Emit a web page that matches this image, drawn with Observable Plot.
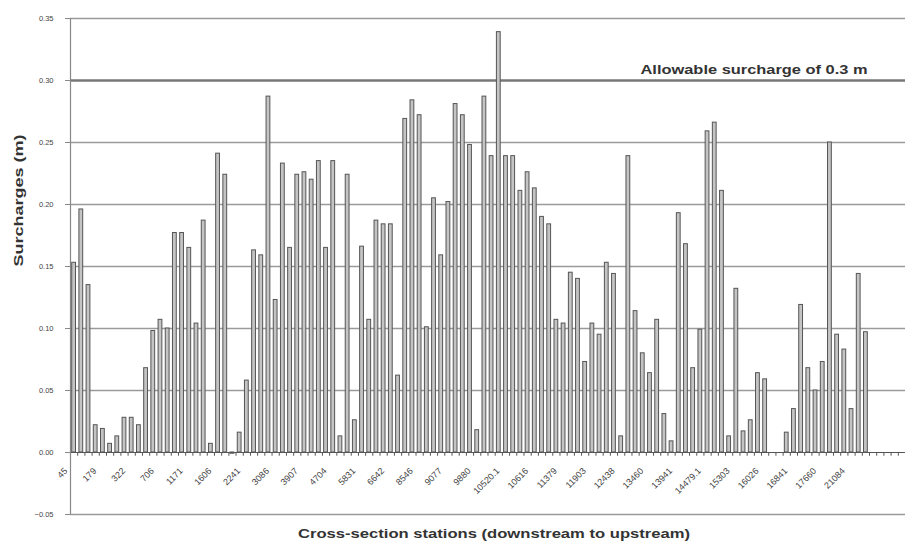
<!DOCTYPE html>
<html>
<head>
<meta charset="utf-8">
<script src="https://cdn.jsdelivr.net/npm/d3@7"></script>
<script src="https://cdn.jsdelivr.net/npm/@observablehq/plot@0.6"></script>
<style>
  html, body { margin: 0; padding: 0; background: #fff; }
  #chart svg { display: block; font-family: "Liberation Sans", Arial, sans-serif; }
</style>
</head>
<body>
<div id="chart"></div>
<script>
// Surcharge per cross-section station (m), downstream to upstream
const surcharges = [
  0.153, 0.196, 0.135, 0.022, 0.019, 0.007, 0.013, 0.028, 0.028, 0.022,
  0.068, 0.098, 0.107, 0.100, 0.177, 0.177, 0.165, 0.104, 0.187, 0.007,
  0.241, 0.224, -0.001, 0.016, 0.058, 0.163, 0.159, 0.287, 0.123, 0.233,
  0.165, 0.224, 0.226, 0.220, 0.235, 0.165, 0.235, 0.013, 0.224, 0.026,
  0.166, 0.107, 0.187, 0.184, 0.184, 0.062, 0.269, 0.284, 0.272, 0.101,
  0.205, 0.159, 0.202, 0.281, 0.272, 0.248, 0.018, 0.287, 0.239, 0.339,
  0.239, 0.239, 0.211, 0.226, 0.213, 0.190, 0.184, 0.107, 0.104, 0.145,
  0.140, 0.073, 0.104, 0.095, 0.153, 0.144, 0.013, 0.239, 0.114, 0.080,
  0.064, 0.107, 0.031, 0.009, 0.193, 0.168, 0.068, 0.099, 0.259, 0.266,
  0.211, 0.013, 0.132, 0.017, 0.026, 0.064, 0.059, 0, 0, 0.016,
  0.035, 0.119, 0.068, 0.050, 0.073, 0.250, 0.095, 0.083, 0.035, 0.144,
  0.097, 0, 0, 0, 0, 0
];
// Station labels shown on the axis (every 4th station)
const stationLabels = [
  "45", "179", "322", "706", "1171", "1606", "2241", "3086", "3907", "4704",
  "5831", "6642", "8546", "9077", "9880", "10520.1", "10616", "11379", "11903", "12438",
  "13460", "13941", "14479.1", "15303", "16026", "16841", "17660", "21084"
];
const labelEvery = 4;
const yTicks = [-0.05, 0, 0.05, 0.10, 0.15, 0.20, 0.25, 0.30, 0.35];
const allowable = 0.3;
const allowableText = "Allowable surcharge of 0.3 m";
const xTitle = "Cross-section stations (downstream to upstream)";
const yTitle = "Surcharges (m)";

const bars = surcharges.map((v, i) => ({i, v}));
const labels = stationLabels.map((t, k) => ({i: k * labelEvery, t}));
const stations = bars.map(d => d.i);

const W = 905, H = 548, ML = 70, MR = 0;
const bw = (W - ML - MR) / stations.length;

const chart = Plot.plot({
  width: W,
  height: H,
  marginLeft: ML,
  marginRight: MR,
  marginTop: 18,
  marginBottom: 34,
  style: {fontFamily: "'Liberation Sans', Arial, sans-serif", background: "#fff"},
  x: {type: "band", domain: stations, padding: 0, round: false, axis: null},
  y: {domain: [-0.05, 0.35], ticks: yTicks, tickFormat: d3.format(".2f"), label: null},
  marks: [
    Plot.ruleY(yTicks.filter(t => t !== allowable && t !== 0), {stroke: "#9a9a9a", strokeWidth: 1.5}),
    Plot.ruleY([allowable], {stroke: "#777", strokeWidth: 2.5}),
    Plot.barY(bars, {x: "i", y: "v", fill: "#c4c4c4", stroke: "#555", strokeWidth: 1, insetLeft: 1.7, insetRight: 1.7}),
    Plot.ruleY([0], {stroke: "#555", strokeWidth: 1.2}),
    Plot.ruleX(stations, {x: d => d, y1: 0, y2: -0.003, dx: -bw / 2, stroke: "#555", strokeWidth: 1}),
    Plot.ruleX([stations[0]], {y1: -0.05, y2: 0.35, dx: -bw / 2, stroke: "#888", strokeWidth: 1.2}),
    Plot.axisY({ticks: yTicks, tickFormat: d3.format(".2f"), tickSize: 5, tickPadding: 12, fontSize: 7.5, fill: "#444", stroke: "#888", label: null}),
    Plot.text(labels, {x: "i", y: 0, text: "t", rotate: -45, textAnchor: "end", dx: -8, dy: 17, fontSize: 9, fill: "#444"}),
    Plot.text([allowableText], {className: "t-allow", frameAnchor: "right", y: [allowable], text: d => d, textAnchor: "end", dx: -38, dy: -11, fontSize: 12.5, fontWeight: "bold", fill: "#333"}),
    Plot.text([xTitle], {className: "t-xtitle", frameAnchor: "bottom", text: d => d, dx: 6, dy: 23, fontSize: 13, fontWeight: "bold", fill: "#333"}),
    Plot.text([yTitle], {className: "t-ytitle", frameAnchor: "left", text: d => d, rotate: -90, dx: -52, fontSize: 13.5, fontWeight: "bold", fill: "#333"})
  ]
});
// stretch titles horizontally to match the reference's wide lettering
const fit = {"t-allow": 227, "t-xtitle": 392, "t-ytitle": 132};
for (const [cls, len] of Object.entries(fit)) {
  chart.querySelectorAll(`g.${cls} text`).forEach(t => {
    t.setAttribute("textLength", len);
    t.setAttribute("lengthAdjust", "spacingAndGlyphs");
  });
}
document.getElementById("chart").appendChild(chart);
</script>
</body>
</html>
